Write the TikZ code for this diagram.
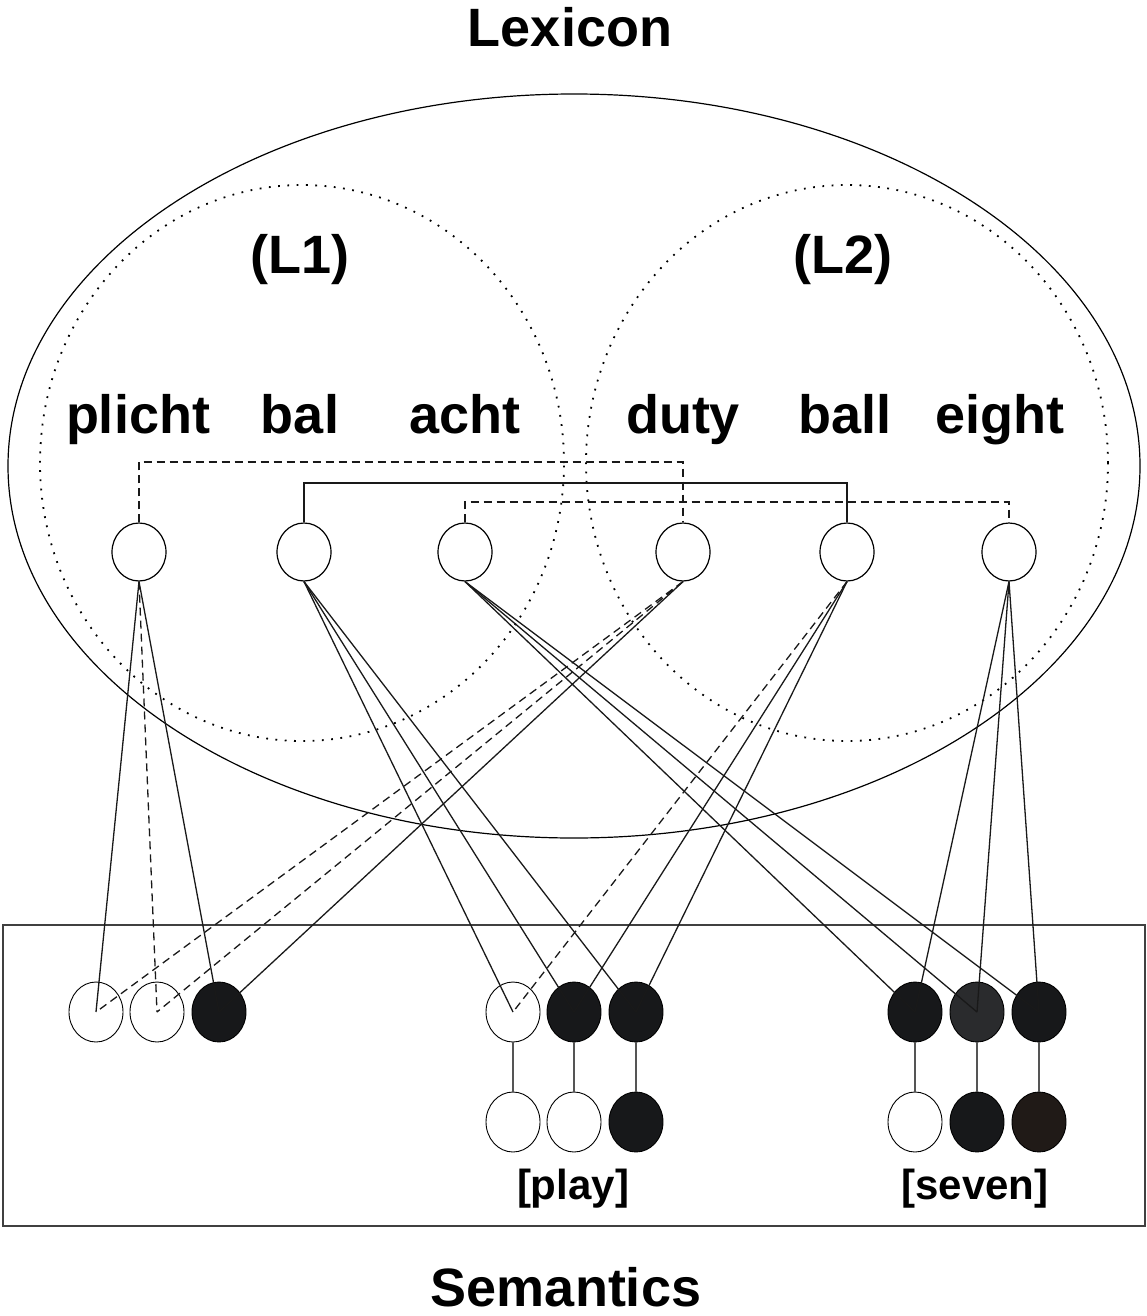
\documentclass[tikz,border=0pt]{standalone}
\usepackage{fontspec}
\setmainfont{Liberation Sans}
\usetikzlibrary{shapes.geometric}
\definecolor{semblack}{HTML}{17181A}
\definecolor{semgray}{HTML}{2A2B2D}
\definecolor{sembrown}{HTML}{201A17}
\definecolor{linkgray}{HTML}{555555}
\tikzset{
  big/.style={font=\fontsize{54}{60}\selectfont\bfseries, inner sep=0pt, anchor=base},
  small/.style={font=\fontsize{42}{48}\selectfont\bfseries, inner sep=0pt, anchor=base},
  lexnode/.style={ellipse, draw, line width=1.2pt, fill=white, minimum width=54pt, minimum height=58pt, inner sep=0pt},
  semnode/.style={ellipse, draw, line width=0.9pt, minimum width=54pt, minimum height=60pt, inner sep=0pt},
  on/.style={semnode, fill=semblack},
  off/.style={semnode, fill=white},
  link/.style={line width=1.3pt, draw=black!90},
  dlink/.style={link, dash pattern=on 8pt off 5pt},
  tie/.style={line width=1.4pt, draw=linkgray},
  dotc/.style={line width=1.8pt, dash pattern=on 1.8pt off 7.5pt}
}
\begin{document}
\begin{tikzpicture}[x=1pt,y=-1pt]
\useasboundingbox (0,0) rectangle (1146,1316);
% titles
\node[big] (tlex) at (570,47) {Lexicon};
\node[big] (tsem) at (566,1306) {Semantics};
% lexicon areas
\draw[line width=1.2pt] (574,466) ellipse [x radius=566pt, y radius=372pt];
\draw[dotc] (302,463) ellipse [x radius=262pt, y radius=278pt];
\draw[dotc] (847,463) ellipse [x radius=261pt, y radius=278pt];
\node[big] (tl1) at (300,273) {(L1)};
\node[big] (tl2) at (843,273) {(L2)};
% words
\node[big] (w1) at (138,433) {plicht};
\node[big] (w2) at (300,433) {bal};
\node[big] (w3) at (465,433) {acht};
\node[big] (w4) at (683,433) {duty};
\node[big] (w5) at (845,433) {ball};
\node[big] (w6) at (1000,433) {eight};
% semantics box
\draw[line width=1.2pt, draw=black!75] (3,925) rectangle (1145,1226);
% lexical nodes
\node[lexnode] (l1) at (139,552) {};
\node[lexnode] (l2) at (304,552) {};
\node[lexnode] (l3) at (465,552) {};
\node[lexnode] (l4) at (683,552) {};
\node[lexnode] (l5) at (847,552) {};
\node[lexnode] (l6) at (1009,552) {};
% translation ties
\coordinate (h1) at (0,462);
\coordinate (h2) at (0,483);
\coordinate (h3) at (0,502);
\draw[dlink] (l1.north) -- (l1.north |- h1) -| (l4.north);
\draw[link] (l2.north) -- (l2.north |- h2) -| (l5.north);
\draw[dlink] (l3.north) -- (l3.north |- h3) -| (l6.north);
% semantic nodes
\node[off] (a1) at (96,1012) {};
\node[off] (a2) at (157,1012) {};
\node[on]  (a3) at (219,1012) {};
\node[off] (p1) at (513,1012) {};
\node[on]  (p2) at (574,1012) {};
\node[on]  (p3) at (636,1012) {};
\node[off] (p4) at (513,1122) {};
\node[off] (p5) at (574,1122) {};
\node[on]  (p6) at (636,1122) {};
\node[on]  (q1) at (915,1012) {};
\node[semnode, fill=semgray] (q2) at (977,1012) {};
\node[on]  (q3) at (1039,1012) {};
\node[off] (q4) at (915,1122) {};
\node[on]  (q5) at (977,1122) {};
\node[semnode, fill=sembrown] (q6) at (1039,1122) {};
\draw[tie] (p1) -- (p4);
\draw[tie] (p2) -- (p5);
\draw[tie] (p3) -- (p6);
\draw[tie] (q1) -- (q4);
\draw[tie] (q2) -- (q5);
\draw[tie] (q3) -- (q6);
\node[small] (tplay) at (573,1199) {[play]};
\node[small] (tseven) at (975,1199) {[seven]};
% lexicon to semantics
\draw[link]  (l1.south) -- (a1.center);
\draw[dlink] (l1.south) -- (a2.center);
\draw[link]  (l1.south) -- (a3.center);
\draw[dlink] (l4.south) -- (a1.center);
\draw[dlink] (l4.south) -- (a2.center);
\draw[link]  (l4.south) -- (a3.center);
\draw[link]  (l2.south) -- (p1.center);
\draw[link]  (l2.south) -- (p2.center);
\draw[link]  (l2.south) -- (p3.center);
\draw[dlink] (l5.south) -- (p1.center);
\draw[link]  (l5.south) -- (p2.center);
\draw[link]  (l5.south) -- (p3.center);
\draw[link]  (l3.south) -- (q1.center);
\draw[link]  (l3.south) -- (q2.center);
\draw[link]  (l3.south) -- (q3.center);
\draw[link]  (l6.south) -- (q1.center);
\draw[link]  (l6.south) -- (q2.center);
\draw[link]  (l6.south) -- (q3.center);
\end{tikzpicture}
\end{document}
